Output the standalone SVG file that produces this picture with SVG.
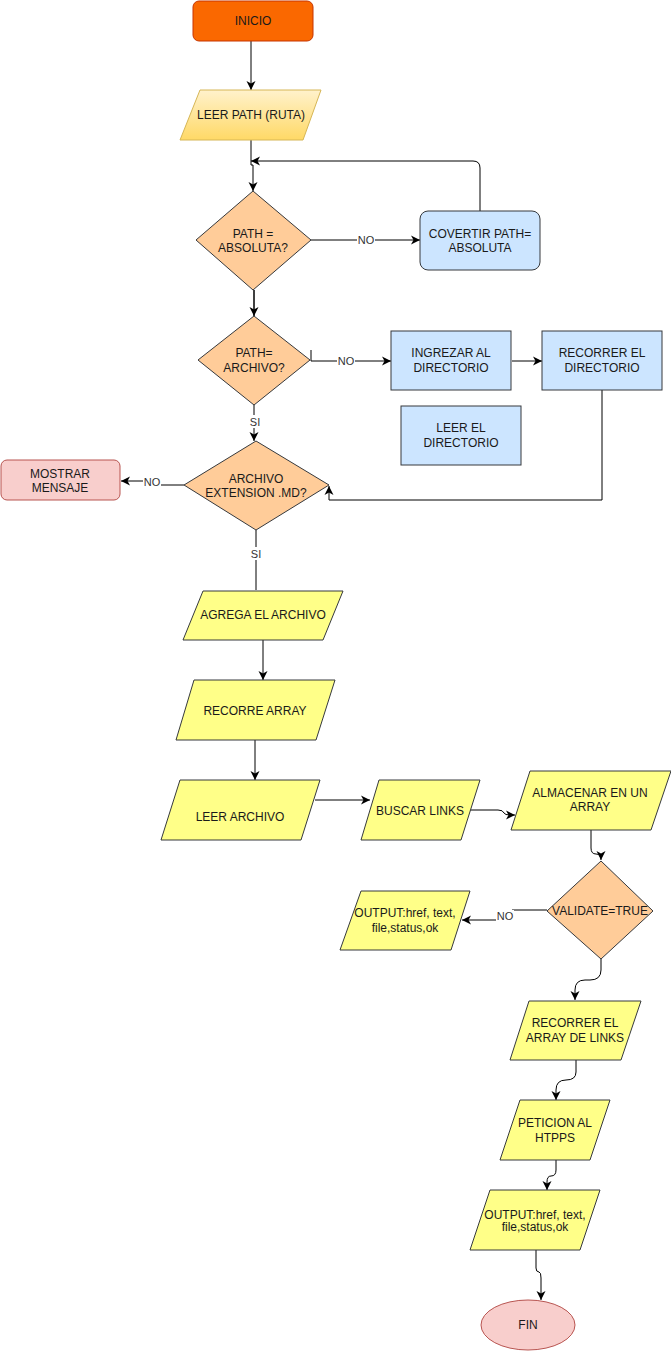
<svg xmlns="http://www.w3.org/2000/svg" width="671" height="1351" viewBox="0 0 671 1351">
<defs>
<linearGradient id="gy" x1="0" y1="0" x2="0" y2="1"><stop offset="0" stop-color="#fff2cc"/><stop offset="1" stop-color="#ffd966"/></linearGradient>
<marker id="ar" markerUnits="userSpaceOnUse" markerWidth="10" markerHeight="10" refX="9" refY="5" orient="auto" viewBox="0 0 10 10">
<path d="M0,0.5 L9,5 L0,9.5 L2.5,5 Z" fill="#000"/>
</marker>
<style>
text{font-family:"Liberation Sans",Arial,sans-serif;font-size:12px;fill:#1a1a1a;text-anchor:middle}
.lbl{font-size:11px;fill:#333}
.c{fill:none;stroke:#000;stroke-width:1}
.a{marker-end:url(#ar)}
.y{fill:#ffff88;stroke:#36393d}
.d{fill:#ffcc99;stroke:#36393d}
.b{fill:#cce5ff;stroke:#36393d}
.r{fill:#f8cecc;stroke:#b85450}
.bg{fill:#fff}
</style>
</defs>
<g id="connectors">
<path class="c a" d="M251,41 L251,90"/>
<path class="c a" d="M251,140 L251,165 L253,165 L253,191"/>
<path class="c a" d="M480,211 L480,168 Q480,161 473,161 L251,161"/>
<path class="c a" d="M311,240 L420,240"/>
<rect class="bg" x="357" y="234" width="18" height="12"/>
<text class="lbl" x="366" y="244">NO</text>
<path class="c a" d="M254,290 L254,316" style="stroke-width:1.5"/>
<path class="c a" d="M311,350 L311,361 L391,361"/>
<rect class="bg" x="337" y="355" width="18" height="12"/>
<text class="lbl" x="346" y="365">NO</text>
<path class="c a" d="M512,361 L542,361"/>
<path class="c a" d="M602,390 L602,500 L329,500 L329,486"/>
<path class="c a" d="M254,405 L254,441"/>
<rect class="bg" x="249" y="415" width="12" height="13"/>
<text class="lbl" x="255" y="426">SI</text>
<path class="c a" d="M184,485 L156,485 L156,481 L121,481"/>
<rect class="bg" x="143" y="476" width="18" height="12"/>
<text class="lbl" x="152" y="486">NO</text>
<path class="c" d="M256,530 L256,590"/>
<rect class="bg" x="250" y="547" width="12" height="13"/>
<text class="lbl" x="256" y="558">SI</text>
<path class="c a" d="M263,640 L263,680"/>
<path class="c a" d="M255,740 L255,780"/>
<path class="c a" d="M315,800 L370,800"/>
<path class="c a" d="M470,810 L498,810 Q503,810 504,813 Q505,815 510,815 L515,815"/>
<path class="c a" d="M591,830 L591,848 Q591,854 596,854 Q601,854 601,860"/>
<path class="c a" d="M547,910 L512,910 L512,920 L462,920"/>
<rect class="bg" x="496" y="910" width="18" height="12"/>
<text class="lbl" x="505" y="920">NO</text>
<path class="c a" d="M601,959 L601,970 Q601,980 590,980 L585,980 Q575,980 575,990 L575,1000"/>
<path class="c a" d="M576,1060 L576,1072 Q576,1080 566,1080 Q556,1080 556,1090 L556,1100"/>
<path class="c a" d="M556,1160 L556,1170 Q556,1176 551,1176 Q547,1176 547,1182 L547,1190"/>
<path class="c a" d="M536,1250 L536,1268 Q536,1272 539,1272 Q541,1272 541,1278 L541,1300"/>
</g>
<g id="inicio">
<rect x="193" y="1" width="120" height="40" rx="6" fill="#fa6800" stroke="#c73500"/>
<text x="253" y="25">INICIO</text>
</g>
<g id="leer-path">
<polygon points="200,90 321,90 303,140 180,140" fill="url(#gy)" stroke="#d6b656"/>
<text x="251" y="119">LEER PATH (RUTA)</text>
</g>
<g id="path-absoluta">
<polygon class="d" points="253,191 311,240 253,290 196,240"/>
<text x="253" y="238">PATH =</text>
<text x="253" y="252">ABSOLUTA?</text>
</g>
<g id="covertir">
<rect class="b" x="420" y="211" width="120" height="59" rx="8"/>
<text x="480" y="238">COVERTIR PATH=</text>
<text x="480" y="252">ABSOLUTA</text>
</g>
<g id="path-archivo">
<polygon class="d" points="254,316 310,360 254,405 198,360"/>
<text x="254" y="357">PATH=</text>
<text x="254" y="372">ARCHIVO?</text>
</g>
<g id="ingrezar">
<rect class="b" x="391" y="331" width="120" height="59"/>
<text x="451" y="357">INGREZAR AL</text>
<text x="451" y="372">DIRECTORIO</text>
</g>
<g id="recorrer-dir">
<rect class="b" x="542" y="331" width="120" height="59"/>
<text x="602" y="357">RECORRER EL</text>
<text x="602" y="372">DIRECTORIO</text>
</g>
<g id="leer-dir">
<rect class="b" x="401" y="406" width="120" height="59"/>
<text x="461" y="432">LEER EL</text>
<text x="461" y="447">DIRECTORIO</text>
</g>
<g id="archivo-md">
<polygon class="d" points="256,441 329,485 256,530 184,485"/>
<text x="256" y="483">ARCHIVO</text>
<text x="256" y="497">EXTENSION .MD?</text>
</g>
<g id="mostrar">
<rect class="r" x="1" y="460" width="119" height="40" rx="6"/>
<text x="60" y="478">MOSTRAR</text>
<text x="60" y="492">MENSAJE</text>
</g>
<g id="agrega">
<polygon class="y" points="203,591 343,591 323,640 183,640"/>
<text x="263" y="619">AGREGA EL ARCHIVO</text>
</g>
<g id="recorre-array">
<polygon class="y" points="194,680 335,680 316,740 176,740"/>
<text x="255" y="715">RECORRE ARRAY</text>
</g>
<g id="leer-archivo">
<polygon class="y" points="180,780 320,780 301,840 161,840"/>
<text x="240" y="821">LEER ARCHIVO</text>
</g>
<g id="buscar-links">
<polygon class="y" points="379,780 480,780 461,840 361,840"/>
<text x="420" y="815">BUSCAR LINKS</text>
</g>
<g id="almacenar">
<polygon class="y" points="530,771 671,771 651,830 511,830"/>
<text x="590" y="797">ALMACENAR EN UN</text>
<text x="590" y="811">ARRAY</text>
</g>
<g id="validate">
<polygon class="d" points="601,861 653,911 601,959 547,911"/>
<text x="600" y="915">VALIDATE=TRUE</text>
</g>
<g id="output1">
<polygon class="y" points="361,891 470,891 451,950 340,950"/>
<text x="405" y="917">OUTPUT:href, text,</text>
<text x="405" y="932">file,status,ok</text>
</g>
<g id="recorrer-links">
<polygon class="y" points="529,1001 641,1001 621,1060 510,1060"/>
<text x="575" y="1027">RECORRER EL</text>
<text x="575" y="1042">ARRAY DE LINKS</text>
</g>
<g id="peticion">
<polygon class="y" points="520,1100 610,1100 590,1160 500,1160"/>
<text x="555" y="1127">PETICION AL</text>
<text x="555" y="1142">HTPPS</text>
</g>
<g id="output2">
<polygon class="y" points="490,1190 600,1190 580,1250 470,1250"/>
<text x="535" y="1219">OUTPUT:href, text,</text>
<text x="535" y="1231">file,status,ok</text>
</g>
<g id="fin">
<ellipse class="r" cx="528" cy="1325" rx="47" ry="25"/>
<text x="528" y="1329">FIN</text>
</g>
</svg>
